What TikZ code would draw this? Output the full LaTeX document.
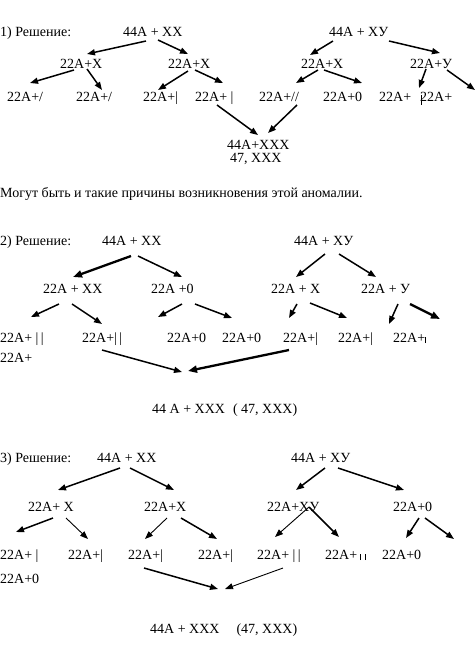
\documentclass[tikz,border=0pt]{standalone}
\usepackage{fontspec}
\setmainfont{Liberation Serif}
\usetikzlibrary{arrows.meta}
\tikzset{
    lbl/.style={inner sep=0pt, anchor=base west, font=\fontsize{14}{16}\selectfont},
    line/.style={-{Triangle[length=8pt,width=6pt]}, line width=1.5pt},
    thickline/.style={-{Triangle[length=9pt,width=7pt]}, line width=2.3pt},
    thinline/.style={-{Triangle[length=8pt,width=6pt]}, line width=0.9pt}
}
\newcommand{\lowbar}{\rule[-1pt]{0.7pt}{6pt}}
\newcommand{\twobars}{|\hspace{2.5pt}|}

\begin{document}
\begin{tikzpicture}[x=1pt,y=-1pt]
\useasboundingbox (0,0) rectangle (476,649);

% Case 1
\node[lbl] (s1lab) at (0,36) {1) Решение:};
\node[lbl] (s1xx) at (123,36) {44A + XX};
\node[lbl] (s1xy) at (329,36) {44A + XУ};
\node[lbl] (s1a) at (60,68) {22A+X};
\node[lbl] (s1b) at (168,68) {22A+X};
\node[lbl] (s1c) at (301,68) {22A+X};
\node[lbl] (s1d) at (410,68) {22A+У};
\node[lbl] (s1aa) at (7,101) {22A+/};
\node[lbl] (s1ab) at (76,101) {22A+/};
\node[lbl] (s1ba) at (143,101) {22A+|};
\node[lbl] (s1bb) at (195,101) {22A+ |};
\node[lbl] (s1ca) at (259,101) {22A+//};
\node[lbl] (s1cb) at (323,101) {22A+0};
\node[lbl] (s1da) at (379,101) {22A+};
\node[lbl] (s1db) at (420,101) {22A+};
\node[lbl] (s1res) at (227,149) {44A+XXX};
\node[lbl] (s1res2) at (230,162) {47, XXX};
\coordinate (s1de) at (475,90);

\draw[line] ([shift={(23,5)}]s1xx.base west) -- ([shift={(27,-14)}]s1a.base west);
\draw[line] ([shift={(35,4)}]s1xx.base west) -- ([shift={(20,-14)}]s1b.base west);
\draw[line] ([shift={(14,2)}]s1a.base west) -- ([shift={(23,-18)}]s1aa.base west);
\draw[line] ([shift={(27,1)}]s1a.base west) -- ([shift={(26,-11)}]s1ab.base west);
\draw[line] ([shift={(20,3)}]s1b.base west) -- ([shift={(15,-11)}]s1ba.base west);
\draw[line] ([shift={(27,2)}]s1b.base west) -- ([shift={(28,-18)}]s1bb.base west);
\draw[line] ([shift={(22,4)}]s1bb.base west) -- ([shift={(31,-14)}]s1res.base west);
\draw[line] ([shift={(38,4)}]s1ca.base west) -- ([shift={(41,-16)}]s1res.base west);
\draw[line] ([shift={(4,5)}]s1xy.base west) -- ([shift={(9,-13)}]s1c.base west);
\draw[line] ([shift={(60,5)}]s1xy.base west) -- ([shift={(30,-15)}]s1d.base west);
\draw[line] ([shift={(17,2)}]s1c.base west) -- ([shift={(37,-18)}]s1ca.base west);
\draw[line] ([shift={(23,2)}]s1c.base west) -- ([shift={(39,-18)}]s1cb.base west);
\draw[line] ([shift={(16,1)}]s1d.base west) -- ([shift={(-1,-13)}]s1db.base west);
\draw[line] ([shift={(37,2)}]s1d.base west) -- (s1de);
\draw[line width=0.8pt] ([shift={(1,-6)}]s1db.base west) -- ([shift={(1,4)}]s1db.base west);

\node[lbl] (note) at (0,197) {Могут быть и такие причины возникновения этой аномалии.};

% Case 2
\node[lbl] (s2lab) at (0,245) {2) Решение:};
\node[lbl] (s2xx) at (102,245) {44A + XX};
\node[lbl] (s2xy) at (294,245) {44A + XУ};
\node[lbl] (s2a) at (43,293) {22A + XX};
\node[lbl] (s2b) at (151,293) {22A +0};
\node[lbl] (s2c) at (271,293) {22A + X};
\node[lbl] (s2d) at (361,293) {22A + У};
\node[lbl] (s2aa) at (0,342) {22A+ \twobars};
\node[lbl] (s2ab) at (82,342) {22A+\twobars};
\node[lbl] (s2ba) at (167,342) {22A+0};
\node[lbl] (s2bb) at (222,342) {22A+0};
\node[lbl] (s2bc) at (283,342) {22A+|};
\node[lbl] (s2bd) at (338,342) {22A+|};
\node[lbl] (s2be) at (393,342) {22A+\lowbar};
\node[lbl] (s2e) at (0,362) {22A+};
\node[lbl] (s2res) at (152,413) {44 A + XXX\hspace{8pt}( 47, XXX)};
\coordinate (s2de) at (440,319);

\draw[thickline] ([shift={(29,11)}]s2xx.base west) -- ([shift={(30,-16)}]s2a.base west);
\draw[line] ([shift={(36,11)}]s2xx.base west) -- ([shift={(31,-16)}]s2b.base west);
\draw[line] ([shift={(16,11)}]s2a.base west) -- ([shift={(31,-25)}]s2aa.base west);
\draw[line] ([shift={(29,11)}]s2a.base west) -- ([shift={(20,-18)}]s2ab.base west);
\draw[line] ([shift={(31,11)}]s2b.base west) -- ([shift={(-9,-25)}]s2ba.base west);
\draw[line] ([shift={(44,11)}]s2b.base west) -- ([shift={(10,-24)}]s2bb.base west);
\draw[line] ([shift={(20,8)}]s2ab.base west) -- ([shift={(30,-41)}]s2res.base west);
\draw[thickline] ([shift={(6,8)}]s2bc.base west) -- ([shift={(36,-42)}]s2res.base west);
\draw[line] ([shift={(31,9)}]s2xy.base west) -- ([shift={(25,-16)}]s2c.base west);
\draw[line] ([shift={(45,9)}]s2xy.base west) -- ([shift={(15,-16)}]s2d.base west);
\draw[line] ([shift={(26,11)}]s2c.base west) -- ([shift={(6,-24)}]s2bc.base west);
\draw[line] ([shift={(39,10)}]s2c.base west) -- ([shift={(9,-24)}]s2bd.base west);
\draw[line] ([shift={(37,11)}]s2d.base west) -- ([shift={(-4,-18)}]s2be.base west);
\draw[thickline] ([shift={(49,11)}]s2d.base west) -- (s2de);

% Case 3
\node[lbl] (s3lab) at (0,462) {3) Решение:};
\node[lbl] (s3xx) at (97,462) {44A + XX};
\node[lbl] (s3xy) at (291,462) {44A + XУ};
\node[lbl] (s3a) at (28,511) {22A+ X};
\node[lbl] (s3b) at (144,511) {22A+X};
\node[lbl] (s3c) at (267,511) {22A+XУ};
\node[lbl] (s3d) at (393,511) {22A+0};
\node[lbl] (s3aa) at (0,559) {22A+ |};
\node[lbl] (s3ab) at (68,559) {22A+|};
\node[lbl] (s3ba) at (128,559) {22A+|};
\node[lbl] (s3bb) at (198,559) {22A+|};
\node[lbl] (s3ca) at (257,559) {22A+ \twobars};
\node[lbl] (s3cb) at (325,559) {22A+\hspace{3pt}\lowbar\hspace{4pt}\lowbar};
\node[lbl] (s3da) at (382,559) {22A+0};
\node[lbl] (s3e) at (0,583) {22A+0};
\node[lbl] (s3res) at (150,633) {44A + XXX\hspace{17pt}(47, XXX)};
\coordinate (s3de) at (454,539);

\draw[line] ([shift={(23,6)}]s3xx.base west) -- ([shift={(30,-21)}]s3a.base west);
\draw[line] ([shift={(33,6)}]s3xx.base west) -- ([shift={(30,-21)}]s3b.base west);
\draw[line] ([shift={(25,7)}]s3a.base west) -- ([shift={(16,-27)}]s3aa.base west);
\draw[thinline] ([shift={(38,7)}]s3a.base west) -- ([shift={(20,-20)}]s3ab.base west);
\draw[thinline] ([shift={(23,7)}]s3b.base west) -- ([shift={(17,-20)}]s3ba.base west);
\draw[line] ([shift={(37,7)}]s3b.base west) -- ([shift={(19,-20)}]s3bb.base west);
\draw[line] ([shift={(16,9)}]s3ba.base west) -- ([shift={(68,-44)}]s3res.base west);
\draw[thinline] ([shift={(26,9)}]s3ca.base west) -- ([shift={(75,-44)}]s3res.base west);
\draw[line] ([shift={(34,6)}]s3xy.base west) -- ([shift={(29,-21)}]s3c.base west);
\draw[line] ([shift={(47,6)}]s3xy.base west) -- ([shift={(11,-21)}]s3d.base west);
\draw[thinline] ([shift={(42,-4)}]s3c.base west) -- ([shift={(18,-22)}]s3ca.base west);
\draw[line] ([shift={(42,-4)}]s3c.base west) -- ([shift={(14,-22)}]s3cb.base west);
\draw[line] ([shift={(26,7)}]s3d.base west) -- ([shift={(24,-21)}]s3da.base west);
\draw[line] ([shift={(32,7)}]s3d.base west) -- (s3de);
\end{tikzpicture}
\end{document}
